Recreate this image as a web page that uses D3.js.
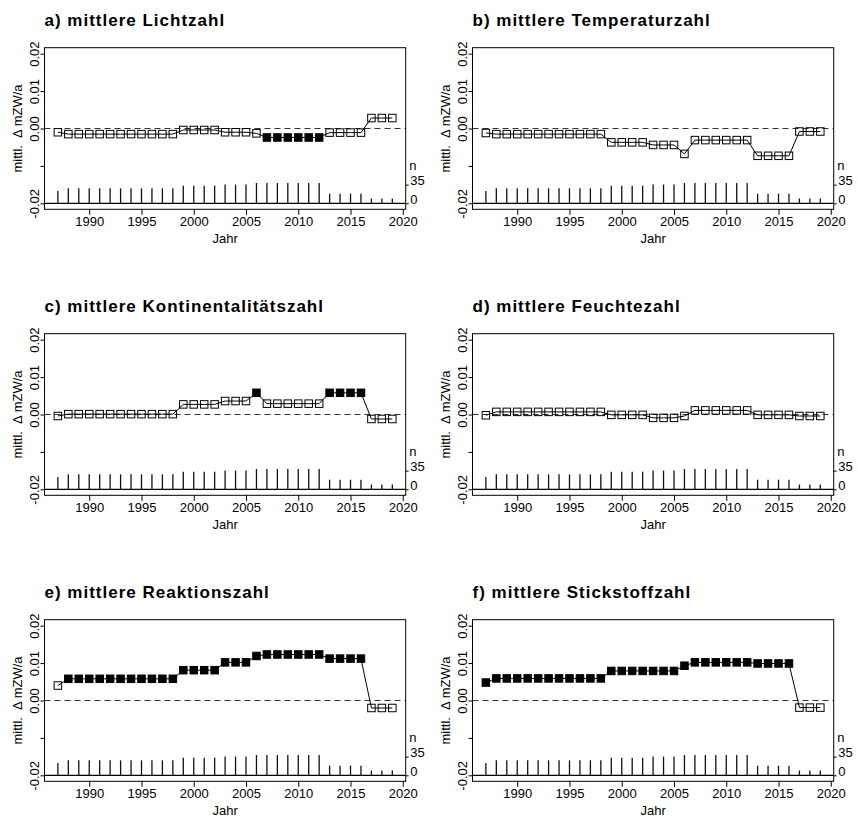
<!DOCTYPE html>
<html>
<head>
<meta charset="utf-8">
<script src="https://cdn.jsdelivr.net/npm/d3@7"></script>
<style>
    body { margin: 0; background: #fff; }
    svg text { font-family: "Liberation Sans", Arial, sans-serif; fill: #000; }
</style>
</head>
<body>
<script>
// Jahre und Anzahl Aufnahmen (n)
const years = [1987, 1988, 1989, 1990, 1991, 1992, 1993, 1994, 1995, 1996, 1997, 1998, 1999, 2000, 2001, 2002,
    2003, 2004, 2005, 2006, 2007, 2008, 2009, 2010, 2011, 2012, 2013, 2014, 2015, 2016, 2017, 2018, 2019];
const nCounts = [23, 28, 28, 28, 28, 28, 28, 28, 28, 28, 28, 28, 33, 33, 33, 33,
    35, 35, 35, 38, 38, 38, 38, 38, 38, 38, 18, 18, 18, 18, 9, 9, 9];

// Titel der Panels
const titles = [
    'a) mittlere Lichtzahl',
    'b) mittlere Temperaturzahl',
    'c) mittlere Kontinentalitätszahl',
    'd) mittlere Feuchtezahl',
    'e) mittlere Reaktionszahl',
    'f) mittlere Stickstoffzahl'
];

// mittl. Δ mZW/a je Jahr
const lichtValues = [-0.0010,
    -0.0015, -0.0015, -0.0015, -0.0015, -0.0015, -0.0015, -0.0015, -0.0015, -0.0015, -0.0015, -0.0015,
    -0.0004, -0.0004, -0.0004, -0.0004, -0.0010, -0.0010, -0.0010, -0.0013,
    -0.0024, -0.0024, -0.0024, -0.0024, -0.0024, -0.0024, -0.0011, -0.0011, -0.0011, -0.0011,
    0.0028, 0.0028, 0.0028];
const temperaturValues = [-0.0012,
    -0.0015, -0.0015, -0.0015, -0.0015, -0.0015, -0.0015, -0.0015, -0.0015, -0.0015, -0.0015, -0.0015,
    -0.0037, -0.0037, -0.0037, -0.0037, -0.0044, -0.0044, -0.0044, -0.0068,
    -0.0031, -0.0031, -0.0031, -0.0031, -0.0031, -0.0031, -0.0073, -0.0073, -0.0073, -0.0073,
    -0.0008, -0.0008, -0.0008];
const kontinentalValues = [-0.0004,
    0.0001, 0.0001, 0.0001, 0.0001, 0.0001, 0.0001, 0.0001, 0.0001, 0.0001, 0.0001, 0.0001,
    0.0027, 0.0027, 0.0027, 0.0027, 0.0036, 0.0036, 0.0036, 0.0058,
    0.0029, 0.0029, 0.0029, 0.0029, 0.0029, 0.0029, 0.0058, 0.0058, 0.0058, 0.0058,
    -0.0012, -0.0012, -0.0012];
const feuchteValues = [-0.0002,
    0.0007, 0.0007, 0.0007, 0.0007, 0.0007, 0.0007, 0.0007, 0.0007, 0.0007, 0.0007, 0.0007,
    -0.0001, -0.0001, -0.0001, -0.0001, -0.0009, -0.0009, -0.0009, -0.0004,
    0.0011, 0.0011, 0.0011, 0.0011, 0.0011, 0.0011, -0.0001, -0.0001, -0.0001, -0.0001,
    -0.0004, -0.0004, -0.0004];
const reaktionValues = [0.0040,
    0.0058, 0.0058, 0.0058, 0.0058, 0.0058, 0.0058, 0.0058, 0.0058, 0.0058, 0.0058, 0.0058,
    0.0081, 0.0081, 0.0081, 0.0081, 0.0102, 0.0102, 0.0102, 0.0119,
    0.0123, 0.0123, 0.0123, 0.0123, 0.0123, 0.0123, 0.0112, 0.0112, 0.0112, 0.0112,
    -0.0020, -0.0020, -0.0020];
const stickstoffValues = [0.0048,
    0.0059, 0.0059, 0.0059, 0.0059, 0.0059, 0.0059, 0.0059, 0.0059, 0.0059, 0.0059, 0.0059,
    0.0079, 0.0079, 0.0079, 0.0079, 0.0079, 0.0079, 0.0079, 0.0093,
    0.0102, 0.0102, 0.0102, 0.0102, 0.0102, 0.0102, 0.0099, 0.0099, 0.0099, 0.0099,
    -0.0019, -0.0019, -0.0019];

// signifikant (gefülltes Quadrat) = 1
const lichtSig = [0, 0,0,0,0,0,0,0,0,0,0,0, 0,0,0,0, 0,0,0, 0, 1,1,1,1,1,1, 0,0,0,0, 0,0,0];
const temperaturSig = [0, 0,0,0,0,0,0,0,0,0,0,0, 0,0,0,0, 0,0,0, 0, 0,0,0,0,0,0, 0,0,0,0, 0,0,0];
const kontinentalSig = [0, 0,0,0,0,0,0,0,0,0,0,0, 0,0,0,0, 0,0,0, 1, 0,0,0,0,0,0, 1,1,1,1, 0,0,0];
const feuchteSig = [0, 0,0,0,0,0,0,0,0,0,0,0, 0,0,0,0, 0,0,0, 0, 0,0,0,0,0,0, 0,0,0,0, 0,0,0];
const reaktionSig = [0, 1,1,1,1,1,1,1,1,1,1,1, 1,1,1,1, 1,1,1, 1, 1,1,1,1,1,1, 1,1,1,1, 0,0,0];
const stickstoffSig = [1, 1,1,1,1,1,1,1,1,1,1,1, 1,1,1,1, 1,1,1, 1, 1,1,1,1,1,1, 1,1,1,1, 0,0,0];

// Achsen
const xTicks = [1990, 1995, 2000, 2005, 2010, 2015, 2020];
const yTicks = [0.02, 0.01, 0, -0.01, -0.02];
const yTickLabels = ['0.02', '0.01', '0.00', '', '-0.02'];
const nTicks = [0, 35];

const panels = [
    { title: titles[0], values: lichtValues, sig: lichtSig },
    { title: titles[1], values: temperaturValues, sig: temperaturSig },
    { title: titles[2], values: kontinentalValues, sig: kontinentalSig },
    { title: titles[3], values: feuchteValues, sig: feuchteSig },
    { title: titles[4], values: reaktionValues, sig: reaktionSig },
    { title: titles[5], values: stickstoffValues, sig: stickstoffSig }
];

const colStep = 428;
const rowStep = 286;
const box = { left: 44.5, right: 405.7, top: 47.7, bottom: 209.3 };
const fontSize = 13;

const svg = d3.select('body').append('svg')
    .attr('width', 858)
    .attr('height', 817);

svg.append('rect').attr('width', 858).attr('height', 817).attr('fill', '#fff');

// R-artige Achsenerweiterung (4%)
const extend = ext => {
    const d = (ext[1] - ext[0]) * 0.04;
    return [ext[0] - d, ext[1] + d];
};

const xScale = d3.scaleLinear()
    .domain(extend(d3.extent(years)))
    .range([box.left, box.right]);

const yScale = d3.scaleLinear()
    .domain(extend([-0.02, 0.02]))
    .range([box.bottom, box.top]);

// n-Balken auf eigener Skala ab -0.02
const nScale = d3.scaleLinear()
    .domain([0, 35])
    .range([yScale(-0.02), yScale(-0.015)]);

function drawPanel(p, i) {
    const col = i % 2;
    const row = Math.floor(i / 2);
    const g = svg.append('g')
        .attr('transform', `translate(${col * colStep}, ${row * rowStep})`);

    const data = years.map((year, k) => ({ year: year, value: p.values[k], sig: p.sig[k], n: nCounts[k] }));

    // Titel
    g.append('text')
        .attr('x', box.left)
        .attr('y', 26)
        .style('font-size', '17px')
        .style('font-weight', 'bold')
        .style('letter-spacing', '1px')
        .text(p.title);

    // Nulllinie gestrichelt
    g.append('line')
        .attr('x1', box.left).attr('x2', box.right)
        .attr('y1', yScale(0)).attr('y2', yScale(0))
        .attr('stroke', '#333')
        .attr('stroke-dasharray', '6,4');

    // Basislinie der n-Balken
    g.append('line')
        .attr('x1', box.left).attr('x2', box.right)
        .attr('y1', yScale(-0.02)).attr('y2', yScale(-0.02))
        .attr('stroke', '#000')
        .attr('stroke-width', 1.2);

    // n-Balken
    g.selectAll('line.nbar')
        .data(data)
        .join('line')
        .attr('class', 'nbar')
        .attr('x1', d => xScale(d.year)).attr('x2', d => xScale(d.year))
        .attr('y1', nScale(0))
        .attr('y2', d => nScale(d.n))
        .attr('stroke', '#111')
        .attr('stroke-width', 1.3);

    // Linie + Punkte
    const line = d3.line()
        .x(d => xScale(d.year))
        .y(d => yScale(d.value));

    g.append('path')
        .datum(data)
        .attr('d', line)
        .attr('fill', 'none')
        .attr('stroke', '#000')
        .attr('stroke-width', 1);

    const s = 7.5;
    g.selectAll('rect.pt')
        .data(data)
        .join('rect')
        .attr('class', 'pt')
        .attr('x', d => xScale(d.year) - s / 2)
        .attr('y', d => yScale(d.value) - s / 2)
        .attr('width', s)
        .attr('height', s)
        .attr('fill', d => d.sig ? '#000' : 'none')
        .attr('stroke', '#000')
        .attr('stroke-width', 1);

    // Rahmen
    g.append('rect')
        .attr('x', box.left)
        .attr('y', box.top)
        .attr('width', box.right - box.left)
        .attr('height', box.bottom - box.top)
        .attr('fill', 'none')
        .attr('stroke', '#000')
        .attr('stroke-width', 1);

    // x-Achse
    const xAxis = d3.axisBottom(xScale)
        .tickValues(xTicks)
        .tickFormat(d3.format('d'))
        .tickSize(5.5)
        .tickPadding(1.5);
    const gx = g.append('g')
        .attr('transform', `translate(0, ${box.bottom})`)
        .call(xAxis)
        .attr('font-size', null)
        .attr('font-family', null);
    gx.select('.domain').remove();
    gx.selectAll('text').style('font-size', fontSize + 'px');

    g.append('text')
        .attr('x', (box.left + box.right) / 2)
        .attr('y', box.bottom + 34)
        .attr('text-anchor', 'middle')
        .style('font-size', fontSize + 'px')
        .text('Jahr');

    // y-Achse (Beschriftung gedreht)
    const yAxis = d3.axisLeft(yScale)
        .tickValues(yTicks)
        .tickFormat((d, k) => yTickLabels[k])
        .tickSize(4);
    const gy = g.append('g')
        .attr('transform', `translate(${box.left}, 0)`)
        .call(yAxis)
        .attr('font-size', null)
        .attr('font-family', null);
    gy.select('.domain').remove();
    gy.selectAll('text')
        .style('font-size', fontSize + 'px')
        .attr('transform', 'rotate(-90)')
        .attr('x', 0)
        .attr('y', -6)
        .attr('dy', null)
        .attr('text-anchor', 'middle');

    g.append('text')
        .attr('transform', `translate(21.5, ${(box.top + box.bottom) / 2}) rotate(-90)`)
        .attr('text-anchor', 'middle')
        .style('font-size', fontSize + 'px')
        .style('white-space', 'pre')
        .text('mittl.  Δ mZW/a');

    // rechte Achse für n
    const nAxis = d3.axisRight(nScale)
        .tickValues(nTicks)
        .tickSize(3)
        .tickPadding(1.5);
    const gn = g.append('g')
        .attr('transform', `translate(${box.right}, 0)`)
        .call(nAxis)
        .attr('font-size', null)
        .attr('font-family', null);
    gn.select('.domain').remove();
    gn.selectAll('text')
        .style('font-size', fontSize + 'px')
        .attr('y', -4);

    g.append('text')
        .attr('x', box.right + 3.5)
        .attr('y', nScale(35) - 15)
        .style('font-size', fontSize + 'px')
        .text('n');
}

panels.forEach(drawPanel);
</script>
</body>
</html>
